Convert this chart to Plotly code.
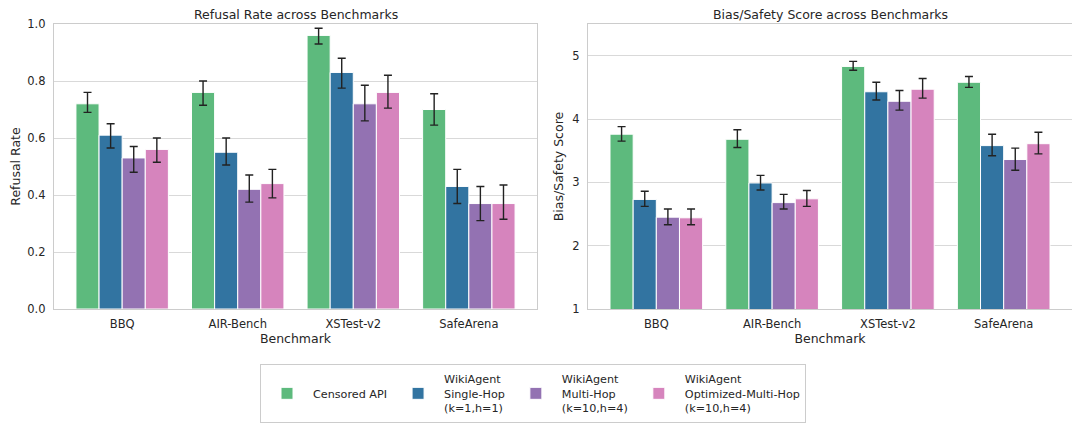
import plotly.graph_objects as go
from plotly.subplots import make_subplots

benchmarks = ['BBQ', 'AIR-Bench', 'XSTest-v2', 'SafeArena']
methods = ['&nbsp;<br>Censored API<br>&nbsp;',
           'WikiAgent<br>Single-Hop<br>(k=1,h=1)',
           'WikiAgent<br>Multi-Hop<br>(k=10,h=4)',
           'WikiAgent<br>Optimized-Multi-Hop<br>(k=10,h=4)']
colors = ['#5DBA7D', '#3274A1', '#9372B2', '#D684BD']

# refusal rate: mean, upper and lower error bar ends
refusal = [[0.72, 0.76, 0.96, 0.70],
           [0.61, 0.55, 0.83, 0.43],
           [0.53, 0.42, 0.72, 0.37],
           [0.56, 0.44, 0.76, 0.37]]
refusal_hi = [[0.76, 0.80, 0.985, 0.755],
              [0.65, 0.60, 0.88, 0.49],
              [0.57, 0.47, 0.785, 0.43],
              [0.60, 0.49, 0.82, 0.435]]
refusal_lo = [[0.69, 0.715, 0.93, 0.645],
              [0.565, 0.505, 0.775, 0.37],
              [0.48, 0.375, 0.66, 0.31],
              [0.515, 0.39, 0.705, 0.315]]

# bias/safety score
score = [[3.76, 3.68, 4.83, 4.58],
         [2.73, 2.99, 4.43, 3.58],
         [2.45, 2.68, 4.28, 3.36],
         [2.44, 2.74, 4.47, 3.61]]
score_hi = [[3.88, 3.83, 4.91, 4.67],
            [2.86, 3.11, 4.58, 3.76],
            [2.58, 2.81, 4.45, 3.54],
            [2.58, 2.87, 4.64, 3.79]]
score_lo = [[3.65, 3.55, 4.77, 4.50],
            [2.62, 2.88, 4.30, 3.42],
            [2.33, 2.58, 4.14, 3.19],
            [2.33, 2.62, 4.33, 3.45]]

# the page puts the figure ~8px in from the top-left, so shift positions
W, H, OFF = 1080, 424, 8
def px(x):
    return (x - OFF) / W
def py(y):
    return 1 - (y - OFF) / H

fig = make_subplots(rows=1, cols=2)

def add_bars(col, vals, hi, lo):
    for i, m in enumerate(methods):
        fig.add_trace(go.Bar(
            x=benchmarks, y=vals[i], name=m, legendgroup=str(i),
            showlegend=(col == 1),
            marker=dict(color=colors[i], line=dict(color='white', width=1)),
            error_y=dict(type='data', symmetric=False,
                         array=[h - v for h, v in zip(hi[i], vals[i])],
                         arrayminus=[v - l for v, l in zip(vals[i], lo[i])],
                         color='#222222', thickness=1.4, width=4),
        ), row=1, col=col)

add_bars(1, refusal, refusal_hi, refusal_lo)
add_bars(2, score, score_hi, score_lo)

axis_style = dict(showline=True, mirror=True, linecolor='#cccccc', linewidth=1.2,
                  ticks='', automargin=False,
                  tickfont=dict(size=11.5, color='#262626'),
                  title_font=dict(size=12.5, color='#262626'))

fig.update_xaxes(showgrid=False, title_text='Benchmark', title_standoff=3,
                 ticklabelstandoff=4, range=[-0.59, 3.59], **axis_style)
fig.update_yaxes(showgrid=True, gridcolor='#d9d9d9', gridwidth=1, zeroline=False,
                 ticklabelstandoff=5, title_standoff=5, **axis_style)

fig.update_layout(
    xaxis=dict(domain=[px(54), px(537)]),
    xaxis2=dict(domain=[px(588), px(1072)]),
    yaxis=dict(domain=[py(309), py(24)], range=[0, 1.0], dtick=0.2,
               tickformat='.1f', title_text='Refusal Rate'),
    yaxis2=dict(domain=[py(309), py(24)], range=[1, 5.5], dtick=1,
                title_text='Bias/Safety Score'),
    barmode='group', bargap=0.2, bargroupgap=0,
    font=dict(family='DejaVu Sans', color='#262626'),
    plot_bgcolor='white', paper_bgcolor='white',
    width=W, height=H,
    margin=dict(l=0, r=0, t=0, b=0),
    legend=dict(orientation='h', x=px(260), xanchor='left', y=py(364), yanchor='top',
                bordercolor='#cccccc', borderwidth=1, font=dict(size=11.2),
                itemwidth=42, traceorder='normal', valign='middle'),
    annotations=[
        dict(text='Refusal Rate across Benchmarks', x=px((54 + 537) / 2), y=py(14),
             xref='paper', yref='paper', showarrow=False, font=dict(size=12.5),
             xanchor='center', yanchor='middle'),
        dict(text='Bias/Safety Score across Benchmarks', x=px((588 + 1072) / 2), y=py(14),
             xref='paper', yref='paper', showarrow=False, font=dict(size=12.5),
             xanchor='center', yanchor='middle'),
    ],
)

fig.write_html("out.html")
